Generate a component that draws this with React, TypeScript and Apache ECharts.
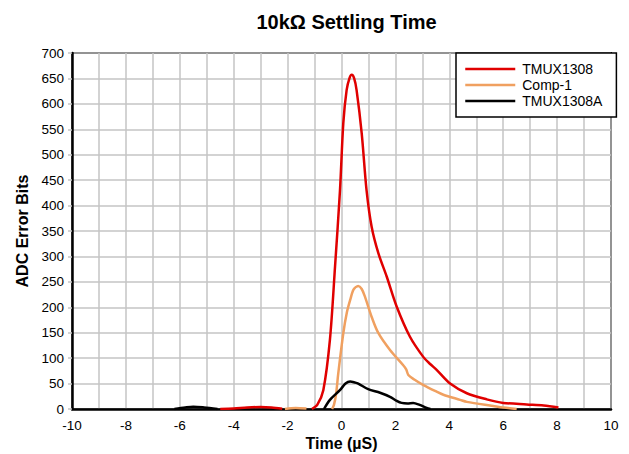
import React, { useEffect, useRef } from "react";
import * as echarts from "echarts";

const seriesNames = ["TMUX1308", "Comp-1", "TMUX1308A"];

const tmux1308: (number | null)[][] = [
  [-4.5, 0], [-4.0, 1], [-3.5, 3], [-3.0, 4], [-2.6, 3], [-2.2, 0.5], [-2.0, null],
  [-1.1, 0], [-0.9, 8], [-0.675, 37], [-0.43, 136], [-0.24, 280], [-0.056, 430],
  [0.067, 562], [0.19, 627], [0.3, 651], [0.38, 657], [0.47, 650], [0.56, 627],
  [0.75, 542], [0.93, 430], [1.12, 358], [1.37, 306], [1.68, 260], [2.05, 201],
  [2.54, 142], [3.04, 102], [3.3, 88], [3.53, 77], [4.03, 50], [4.65, 31],
  [5.39, 19], [6.0, 12], [6.87, 9], [7.5, 7], [8.05, 3],
];

const comp1: (number | null)[][] = [
  [-2.1, 0], [-1.7, 2], [-1.3, 1], [-1.2, null],
  [-0.35, 0], [-0.28, 8], [-0.2, 30], [-0.12, 70], [0.067, 149], [0.2, 190],
  [0.32, 214], [0.45, 235], [0.62, 242], [0.75, 236], [0.87, 221], [1.12, 181],
  [1.37, 149], [1.8, 116], [2.29, 86], [2.4, 78], [2.48, 67], [2.7, 58],
  [3.04, 47], [3.53, 34], [3.78, 28], [4.4, 18], [4.65, 14], [5.63, 6],
  [6.0, 3], [6.5, 0],
];

const tmux1308a: (number | null)[][] = [
  [-6.2, 0], [-5.8, 3], [-5.5, 4.5], [-5.1, 3], [-4.6, 0], [-4.5, null],
  [-0.65, 0], [-0.43, 18], [-0.06, 37], [0.15, 50], [0.32, 54], [0.5, 52],
  [0.62, 50], [0.99, 39], [1.43, 32], [1.8, 24], [2.05, 16], [2.23, 12],
  [2.45, 11], [2.66, 12], [2.9, 8], [3.16, 2], [3.3, 0],
];

const xTicks = { min: -10, max: 10, step: 1 };
const yTicks = { min: 0, max: 700, step: 50 };

const colors = ["#E00000", "#F0A060", "#000000"];
const FONT = "'Liberation Sans', Arial, sans-serif";

export default function App() {
  const ref = useRef<HTMLDivElement>(null);
  useEffect(() => {
    if (!ref.current) return;
    const chart = echarts.init(ref.current, undefined, { renderer: "svg" });
    const datasets = [tmux1308, comp1, tmux1308a];
    chart.setOption({
      animation: false,
      backgroundColor: "#ffffff",
      title: {
        text: "10kΩ Settling Time",
        left: 341.5,
        textAlign: "center",
        top: 7,
        textStyle: { fontFamily: FONT, fontSize: 20, fontWeight: "bold", color: "#000" },
      },
      grid: {
        left: 72, right: 18, top: 53, bottom: 45,
        show: true, borderColor: "#000", borderWidth: 2,
      },
      legend: {
        orient: "vertical",
        left: 456,
        top: 53,
        data: seriesNames,
        backgroundColor: "#fff",
        borderColor: "#000",
        borderWidth: 1.5,
        borderRadius: 0,
        padding: [9, 14, 9, 8],
        itemWidth: 50,
        itemHeight: 14,
        itemGap: 2,
        itemStyle: { opacity: 0 },
        lineStyle: { width: 2.5 },
        textStyle: { fontFamily: FONT, fontSize: 14, color: "#000", padding: [0, 0, 0, 2] },
      },
      xAxis: {
        type: "value",
        min: xTicks.min, max: xTicks.max, interval: xTicks.step,
        axisLine: { onZero: false, lineStyle: { color: "#000", width: 2.5 } },
        axisTick: { show: false },
        splitLine: { show: true, lineStyle: { color: "#c4c4c4", width: 1.5 } },
        axisLabel: {
          fontFamily: FONT, fontSize: 13.5, color: "#000", margin: 9,
          formatter: (v: number) => (Math.round(v) % 2 === 0 ? String(v) : ""),
        },
      },
      yAxis: {
        type: "value",
        min: yTicks.min, max: yTicks.max, interval: yTicks.step,
        axisLine: { show: true, onZero: false, lineStyle: { color: "#000", width: 2.5 } },
        axisTick: { show: true, length: 4, lineStyle: { color: "#c4c4c4", width: 1.5 } },
        splitLine: { show: true, lineStyle: { color: "#c4c4c4", width: 1.5 } },
        axisLabel: { fontFamily: FONT, fontSize: 13.5, color: "#000", margin: 8 },
      },
      graphic: [
        {
          type: "text", x: 341.5, y: 443,
          style: { text: "Time (µS)", align: "center", verticalAlign: "middle",
            font: `bold 16px ${FONT}`, fill: "#000" },
        },
        {
          type: "text", x: 22, y: 231, rotation: Math.PI / 2,
          style: { text: "ADC Error Bits", align: "center", verticalAlign: "middle",
            font: `bold 16px ${FONT}`, fill: "#000" },
        },
      ],
      series: seriesNames.map((name, i) => ({
        name,
        type: "line",
        data: datasets[i],
        symbol: "none",
        smooth: 0.3,
        connectNulls: false,
        color: colors[i],
        lineStyle: { color: colors[i], width: 2.5 },
        z: 2 + i,
      })),
    });
    return () => chart.dispose();
  }, []);
  return (
    <div
      ref={ref}
      style={{ position: "fixed", left: 0, top: 0, width: 629, height: 454 }}
    />
  );
}
